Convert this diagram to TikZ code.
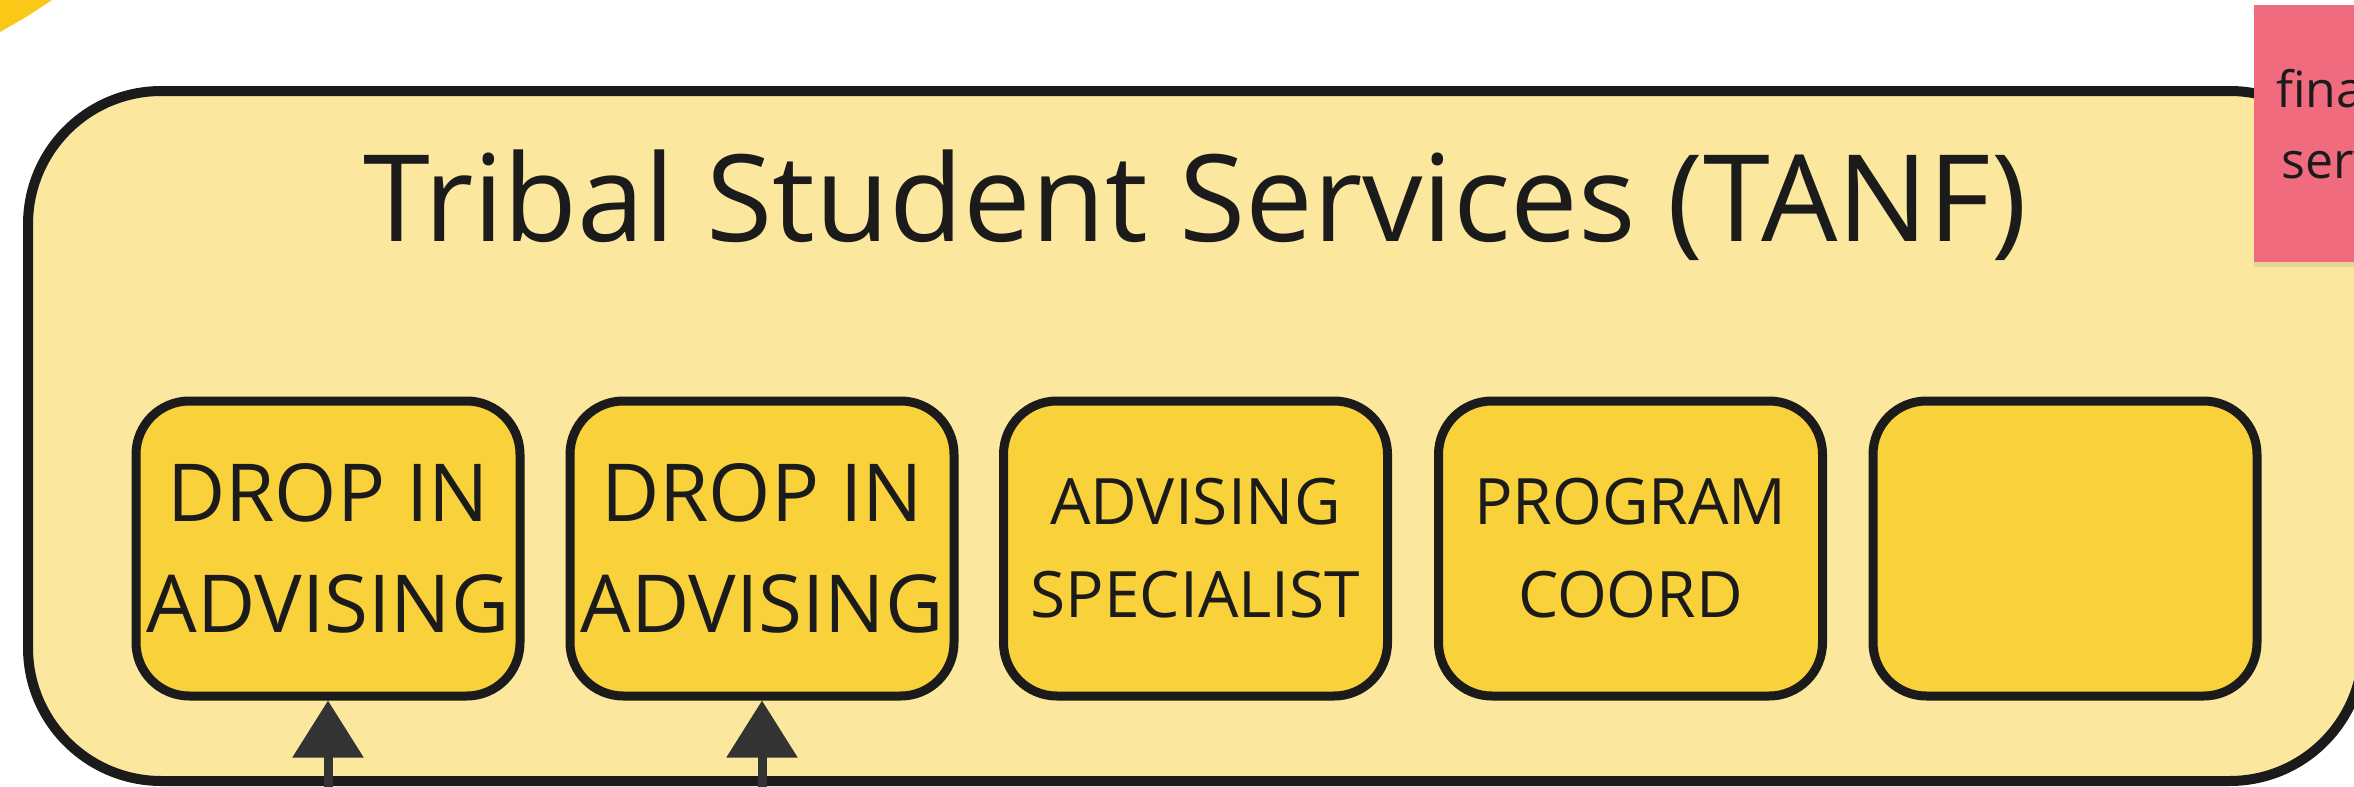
\documentclass[tikz,border=0pt]{standalone}
\usepackage{fontspec}
\setmainfont{Open Sans}
\usepackage{tikz}
\usetikzlibrary{arrows.meta,shadows}

\definecolor{panel}{HTML}{FCE79E}
\definecolor{card}{HTML}{F9D13B}
\definecolor{ink}{HTML}{1B1B1B}
\definecolor{pointer}{HTML}{333333}
\definecolor{sticky}{HTML}{F06B7D}
\definecolor{sun}{HTML}{FAC917}

\begin{document}
\begin{tikzpicture}[x=0.3pt,y=-0.3pt,
		role/.style={draw=ink,fill=card,line width=2.7pt,rounded corners=16pt,minimum width=115.2pt,minimum height=88.5pt,inner sep=0pt,align=center,text=ink},
		bigrole/.style={role,font=\fontsize{24}{33.3}\selectfont},
		smallrole/.style={role,font=\fontsize{19.2}{27.9}\selectfont},
		feed/.style={draw=pointer,line width=2.7pt,-{Triangle[length=17.1pt,width=20.7pt]}}]
		\useasboundingbox (0,0) rectangle (2354,787);
		\clip (0,0) rectangle (2354,787);
		\fill[white] (0,0) rectangle (2354,787);
		% corner of the neighbouring shape
		\fill[sun] (0,0) -- (52,0) .. controls (28,16) .. (0,32) -- cycle;
		% outer group
		\node[draw=ink,fill=panel,line width=3pt,rounded corners=40pt,minimum width=700.5pt,minimum height=207pt,inner sep=0pt] (tss) at (1195.5,436) {};
		\node[anchor=base,text=ink,font=\fontsize{36.2}{44}\selectfont] (title) at (1195,241) {Tribal Student Services (TANF)};
		% roles
		\node[bigrole] (drop1) at (328,548.5) {DROP IN\\ADVISING};
		\node[bigrole] (drop2) at (762,548.5) {DROP IN\\ADVISING};
		\node[smallrole] (spec) at (1195.5,548.5) {ADVISING\\SPECIALIST};
		\node[smallrole] (coord) at (1630.5,548.5) {PROGRAM\\COORD};
		\node[role] (blank) at (2065,548.5) {};
		% incoming arrows
		\coordinate (in1) at (328,810);
		\coordinate (in2) at (762,810);
		\draw[feed] (in1) -- (drop1);
		\draw[feed] (in2) -- (drop2);
		% sticky note
		\node[fill=sticky,minimum width=72pt,minimum height=77.1pt,inner sep=0pt,text depth=6pt,align=center,text=ink,font=\fontsize{15}{21.3}\selectfont,drop shadow={shadow xshift=0pt,shadow yshift=-1.5pt,opacity=0.18}] (note) at (2374,133.5) {financial\\services};
	\end{tikzpicture}
\end{document}
